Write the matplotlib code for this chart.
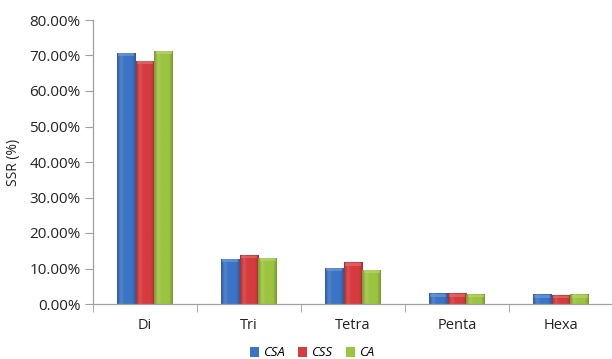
import numpy as np
import matplotlib
matplotlib.use("Agg")
import matplotlib.pyplot as plt
from matplotlib.colors import LinearSegmentedColormap, to_rgb
from matplotlib.ticker import FuncFormatter, MultipleLocator

plt.rcParams['font.family'] = ['Open Sans', 'DejaVu Sans']

categories = ["Di", "Tri", "Tetra", "Penta", "Hexa"]
series_names = ["CSA", "CSS", "CA"]
csa = [70.8, 12.7, 10.2, 3.0, 2.7]
css = [68.5, 13.8, 11.7, 3.0, 2.5]
ca = [71.3, 13.0, 9.7, 2.8, 2.7]
colors = ["#3b74c6", "#d63b3d", "#9cc43f"]

fig = plt.figure(figsize=(6.12, 3.59), dpi=100)
ax = fig.add_axes([93 / 612, 1 - 304 / 359, 520 / 612, 284 / 359])

x = np.arange(len(categories))
width = 0.18
offsets = [-width, 0, width]
all_bars = []
for vals, off, col, name in zip([csa, css, ca], offsets, colors, series_names):
    bars = ax.bar(x + off, vals, width, color=col, edgecolor="none", label=name, zorder=2)
    all_bars.append((bars, col))

# soft bevel shading on each bar
for bars, col in all_bars:
    base = np.array(to_rgb(col))
    dark = base * 0.78
    light = np.clip(base + (1 - base) * 0.12, 0, 1)
    cmap = LinearSegmentedColormap.from_list(
        "bev", [dark, light, base, base, base, dark], N=256)
    grad = np.linspace(0, 1, 64).reshape(1, -1)
    for b in bars:
        x0, w, h = b.get_x(), b.get_width(), b.get_height()
        im = ax.imshow(grad, cmap=cmap, aspect="auto",
                       extent=(x0, x0 + w, 0, h), zorder=2.5,
                       interpolation="bilinear")
        im.set_clip_path(b)
        # lighter cap at the top of the bar
        cap = min(0.9, h * 0.5)
        ax.fill_between([x0 + w * 0.08, x0 + w * 0.92], h - cap, h - 0.15,
                        color=np.clip(base + (1 - base) * 0.3, 0, 1),
                        alpha=0.6, zorder=2.6, linewidth=0)

ax.set_xlim(-0.5, 4.5)
ax.set_ylim(0, 80)
ax.yaxis.set_major_locator(MultipleLocator(10))
ax.yaxis.set_major_formatter(FuncFormatter(lambda v, p: f"{v:.2f}%"))
ax.set_xticks(x)
ax.set_xticklabels(categories)
ax.set_xticks(np.arange(-0.5, 4.6, 1), minor=True)
ax.tick_params(axis="x", which="major", length=0, pad=10, labelsize=10.5, colors="#222222")
ax.tick_params(axis="x", which="minor", length=6, color="#a0a0a0", direction="out")
ax.tick_params(axis="y", length=6, direction="out", labelsize=11, pad=3,
               colors="#a0a0a0", labelcolor="#222222")
for s in ["top", "right"]:
    ax.spines[s].set_visible(False)
for s in ["left", "bottom"]:
    ax.spines[s].set_color("#a0a0a0")
    ax.spines[s].set_linewidth(0.9)

ax.set_ylabel("SSR (%)", fontsize=10, color="#222222", labelpad=6)

leg = fig.legend(handles=[b for b, _ in all_bars], labels=series_names,
                 loc="center", bbox_to_anchor=(312 / 612, 1 - 353 / 359),
                 ncol=3, frameon=False, handlelength=0.7, handleheight=0.7,
                 handletextpad=0.3, columnspacing=1.0,
                 prop={"style": "italic", "size": 9.5})

fig.savefig("out.png", dpi=100)
